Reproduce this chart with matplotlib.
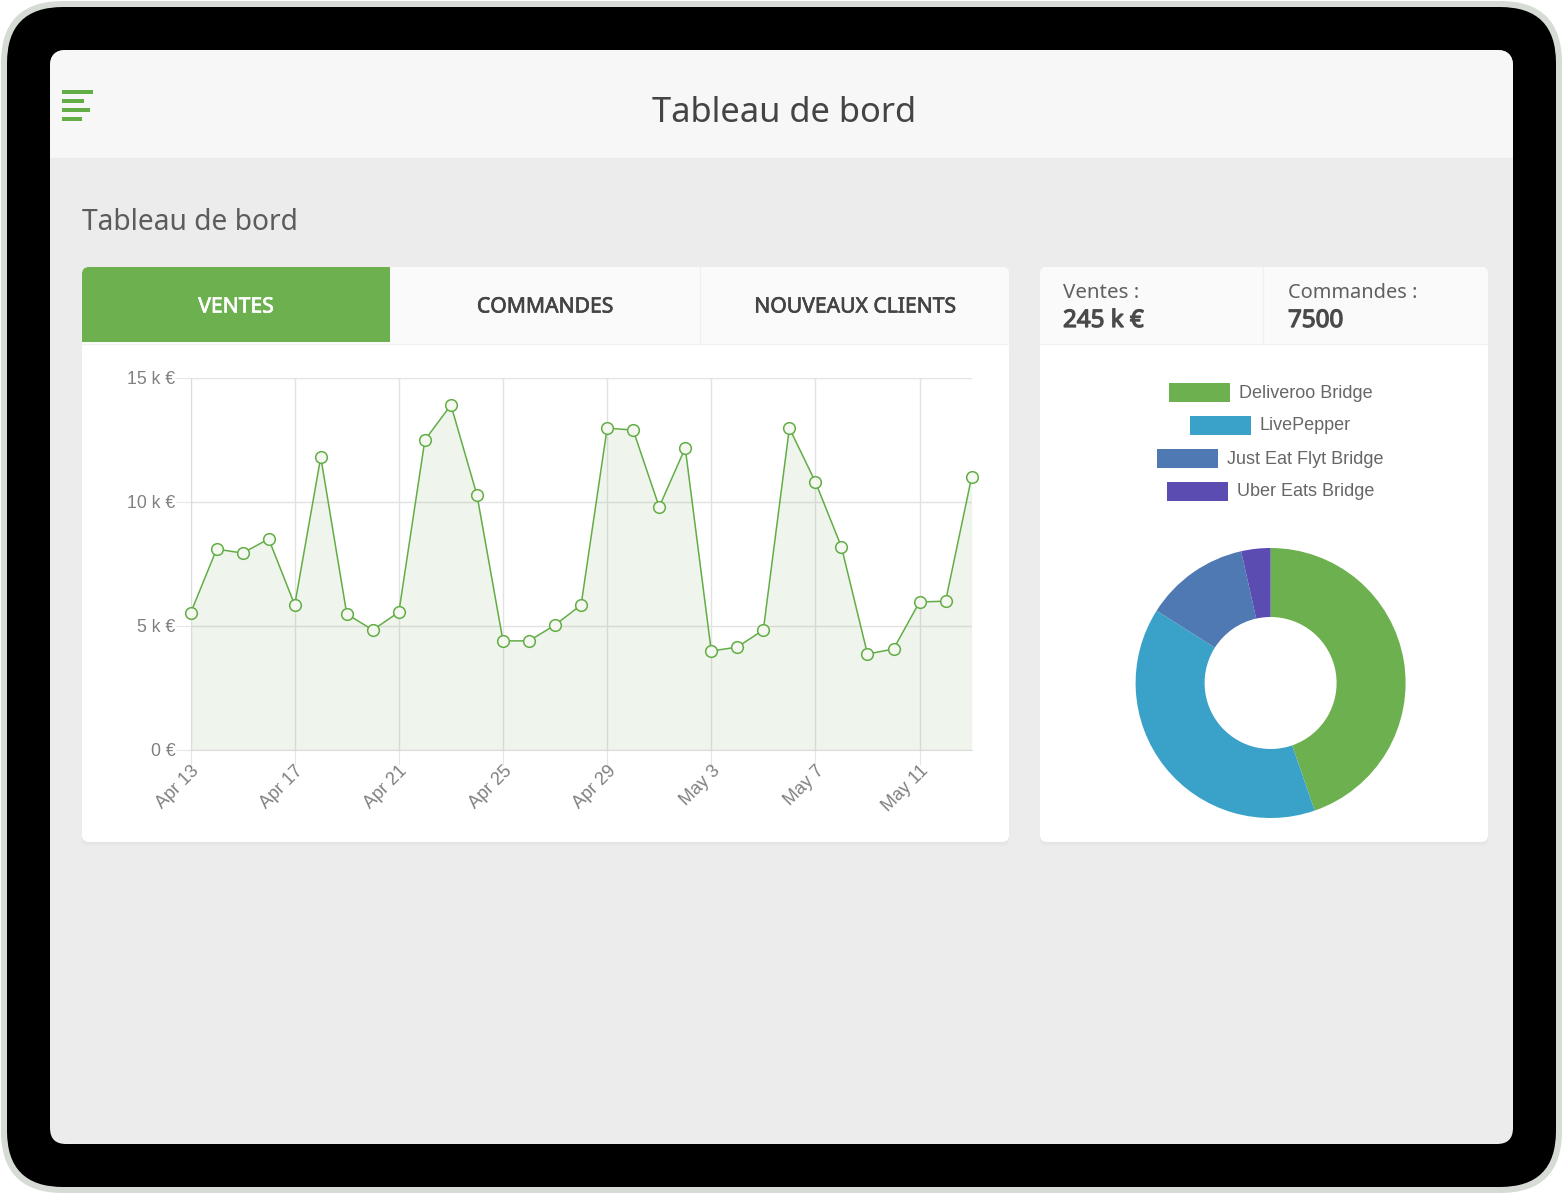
import matplotlib
matplotlib.use('Agg')
import matplotlib.pyplot as plt
import matplotlib.patheffects as pe
from matplotlib.patches import FancyBboxPatch, Rectangle

W, H = 1563, 1194

# chart values (k EUR per day)
days = ['Apr 13', 'Apr 14', 'Apr 15', 'Apr 16', 'Apr 17', 'Apr 18', 'Apr 19', 'Apr 20',
        'Apr 21', 'Apr 22', 'Apr 23', 'Apr 24', 'Apr 25', 'Apr 26', 'Apr 27', 'Apr 28',
        'Apr 29', 'Apr 30', 'May 1', 'May 2', 'May 3', 'May 4', 'May 5', 'May 6',
        'May 7', 'May 8', 'May 9', 'May 10', 'May 11', 'May 12', 'May 13']
ventes = [5.52, 8.10, 7.94, 8.51, 5.85, 11.81, 5.48, 4.84, 5.56, 12.50, 13.91, 10.28,
          4.40, 4.40, 5.04, 5.85, 12.98, 12.90, 9.80, 12.18, 3.99, 4.15, 4.84, 12.98,
          10.81, 8.19, 3.87, 4.07, 5.97, 6.00, 11.00]
y_ticks = [0, 5, 10, 15]
y_labels = ['0 €', '5 k €', '10 k €', '15 k €']

platforms = ['Deliveroo Bridge', 'LivePepper', 'Just Eat Flyt Bridge', 'Uber Eats Bridge']
shares = [44.7, 39.3, 12.5, 3.5]
platform_colors = ['#6db04f', '#3aa2c8', '#4f79b2', '#5a4cb0']

GREEN = '#6db04f'
UI_FONT = ['Noto Sans', 'DejaVu Sans']
CHART_FONT = ['Liberation Sans', 'DejaVu Sans']


def rounded(ax, x0, y0, x1, y1, r, color, **kw):
    p = FancyBboxPatch((x0, y0), x1 - x0, y1 - y0, boxstyle='round,pad=0,rounding_size=%g' % r,
                       fc=color, ec='none', **kw)
    ax.add_patch(p)
    return p


def clipped_rect(ax, x0, y0, x1, y1, color, clip):
    p = Rectangle((x0, y0), x1 - x0, y1 - y0, fc=color, ec='none')
    ax.add_patch(p)
    p.set_clip_path(clip)
    return p


def heavy(text, col, width):
    # the UI font has no usable bold here, so thicken the glyphs
    text.set_path_effects([pe.withStroke(linewidth=width, foreground=col)])


def ax_rect(x0, y0, x1, y1):
    return [x0 / W, 1 - y1 / H, (x1 - x0) / W, (y1 - y0) / H]


fig = plt.figure(figsize=(W / 100, H / 100), dpi=100, facecolor='white')

# page, drawn in pixel coordinates
bg = fig.add_axes([0, 0, 1, 1])
bg.set_xlim(0, W)
bg.set_ylim(H, 0)
bg.axis('off')

rounded(bg, 1, 1, 1562, 1193, 62, '#d6dbd6')
rounded(bg, 7, 7, 1556, 1187, 56, '#000000')
screen = rounded(bg, 50, 50, 1513, 1144, 16, '#ececec')
clipped_rect(bg, 50, 50, 1513, 158, '#f7f7f7', screen)

for y, x1 in [(90, 93), (99, 84), (108, 90), (117, 82)]:
    bg.add_patch(Rectangle((62, y), x1 - 62, 4, fc='#62ad45', ec='none'))

bg.text(784.5, 113, 'Tableau de bord', family=UI_FONT, fontsize=24.8, color='#444444',
        ha='center', va='center')
bg.text(82, 223, 'Tableau de bord', family=UI_FONT, fontsize=20.3, color='#5c5c5c',
        ha='left', va='center')

# cards
for x0, x1 in [(82, 1009), (1040, 1488)]:
    for off, col in [(4, '#e8e8e8'), (2, '#e4e4e4')]:
        rounded(bg, x0, 267 + off, x1, 842 + off, 7, col)
    card = rounded(bg, x0, 267, x1, 842, 7, '#ffffff')
    clipped_rect(bg, x0, 267, x1, 343, '#fafafa', card)
    bg.plot([x0, x1], [343.5, 343.5], color='#f2f2f2', lw=1)
    if x0 == 82:
        clipped_rect(bg, 82, 267, 390, 342, GREEN, card)
        bg.plot([700, 700], [267, 343], color='#f0f0f0', lw=1)
    else:
        bg.plot([1263, 1263], [267, 343], color='#f0f0f0', lw=1)

for x, label, col in [(236, 'VENTES', '#ffffff'), (545, 'COMMANDES', '#444444'),
                      (855, 'NOUVEAUX CLIENTS', '#444444')]:
    t = bg.text(x, 307, label, family=UI_FONT, fontsize=15.2, color=col, ha='center', va='center')
    heavy(t, col, 0.5)

bg.text(1063, 293, 'Ventes :', family=UI_FONT, fontsize=14.8, color='#606060', ha='left', va='center')
bg.text(1288, 293, 'Commandes :', family=UI_FONT, fontsize=14.4, color='#606060', ha='left', va='center')
for x, label in [(1063, '245 k €'), (1288, '7500')]:
    t = bg.text(x, 321, label, family=UI_FONT, fontsize=17.4, color='#4a4a4a', ha='left', va='center')
    heavy(t, '#4a4a4a', 0.9)

# line chart
ax = fig.add_axes(ax_rect(190.6, 378, 971.6, 750), facecolor='none')
xs = list(range(len(days)))
ax.fill_between(xs, ventes, 0, color='#6f9f58', alpha=0.11, lw=0, zorder=2)
ax.plot(xs, ventes, color='#62ad45', lw=1.1, marker='o', ms=8.4, mfc='#f4f8f1', mec='#62ad45',
        mew=1.1, clip_on=False, zorder=4)
ax.set_xlim(0, 30)
ax.set_ylim(0, 15)
ax.set_xticks(xs[::4])
ax.set_xticklabels(days[::4], rotation=45, ha='right', rotation_mode='anchor')
ax.set_yticks(y_ticks)
ax.set_yticklabels(y_labels)
ax.grid(True, color='#e2e2e2', lw=1, zorder=1)
ax.set_axisbelow(True)
ax.tick_params(axis='x', length=11, width=0.8, color='#e6e6e6', labelcolor='#808080', labelsize=13,
               pad=-2)
ax.tick_params(axis='y', length=11, width=0.8, color='#e6e6e6', labelcolor='#808080', labelsize=12.7,
               pad=0)
for lab in ax.get_xticklabels() + ax.get_yticklabels():
    lab.set_family(CHART_FONT)
for side in ['top', 'right']:
    ax.spines[side].set_visible(False)
for side in ['left', 'bottom']:
    ax.spines[side].set_color('#dcdcdc')

# donut
pie_ax = fig.add_axes(ax_rect(1135.6, 548, 1405.6, 818), facecolor='none')
pie_ax.pie(shares, colors=platform_colors, startangle=90, counterclock=False, radius=1,
           wedgeprops={'width': 69 / 135, 'lw': 0})
pie_ax.set_xlim(-1, 1)
pie_ax.set_ylim(-1, 1)

# legend, each row centred on its own
fig.canvas.draw()
renderer = fig.canvas.get_renderer()
for i, name in enumerate(platforms):
    y = 392 + 33 * i
    t = bg.text(0, y + 1, name, family=CHART_FONT, fontsize=13, color='#666666', ha='left', va='center')
    tw = t.get_window_extent(renderer).width
    x0 = 1270.5 - (61 + 9 + tw) / 2
    t.set_x(x0 + 61 + 9)
    bg.add_patch(Rectangle((x0, y - 9.5), 61, 19, fc=platform_colors[i], ec='none'))

fig.savefig('out.png', dpi=100)
